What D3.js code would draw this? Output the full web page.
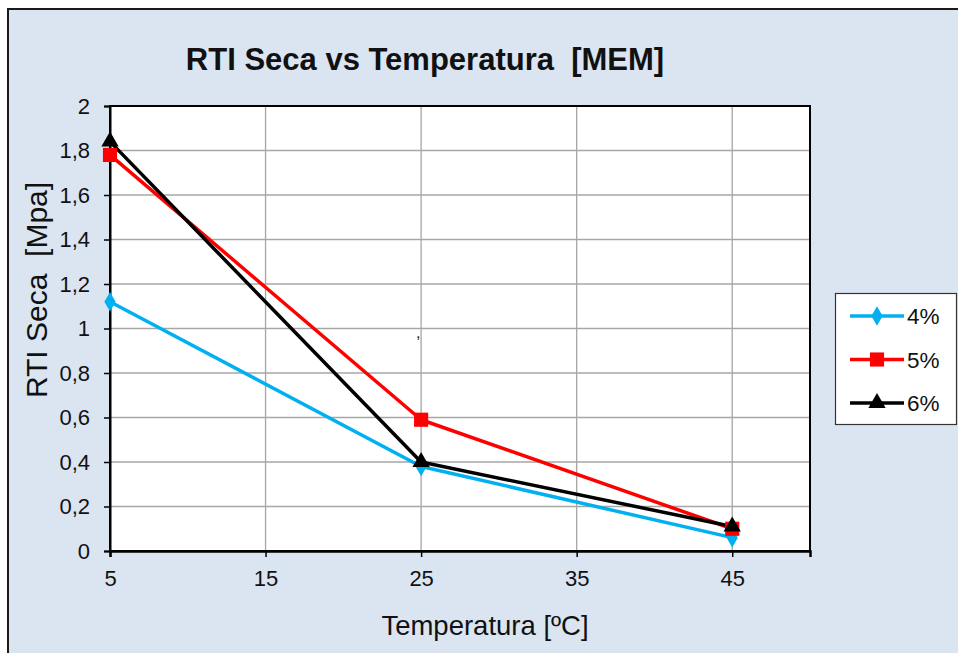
<!DOCTYPE html>
<html>
<head>
<meta charset="utf-8">
<script src="https://cdn.jsdelivr.net/npm/d3@7"></script>
<style>
  html, body { margin: 0; padding: 0; background: #ffffff; }
  svg { display: block; font-family: "Liberation Sans", Arial, sans-serif; }
  text { white-space: pre; }
</style>
</head>
<body>
<svg id="chart" width="958" height="653"></svg>
<script>
// Temperatures (ºC) measured
const temperatures = [5, 25, 45];
// RTI Seca (MPa) per moisture content
const series4 = [1.12, 0.38, 0.06];
const series5 = [1.78, 0.59, 0.10];
const series6 = [1.84, 0.40, 0.11];
const seriesNames = ["4%", "5%", "6%"];
const xTicks = [5, 15, 25, 35, 45];
const yTicks = [0, 0.2, 0.4, 0.6, 0.8, 1, 1.2, 1.4, 1.6, 1.8, 2];

const seriesList = [
  { name: seriesNames[0], values: series4, color: "#00b0f0", symbol: d3.symbolDiamond, size: 110 },
  { name: seriesNames[1], values: series5, color: "#ff0000", symbol: d3.symbolSquare, size: 200 },
  { name: seriesNames[2], values: series6, color: "#000000", symbol: d3.symbolTriangle, size: 130 }
];

const svg = d3.select("#chart");
const W = 958, H = 653;
const plot = { left: 110, top: 106, right: 810, bottom: 551 };

// chart background and frame
svg.append("rect").attr("x", 8).attr("y", 9).attr("width", W + 10).attr("height", H + 10)
  .attr("fill", "#dbe5f1").attr("stroke", "#1a1a1a").attr("stroke-width", 2);

const x = d3.scaleLinear().domain([5, 50]).range([plot.left, plot.right]);
const y = d3.scaleLinear().domain([0, 2]).range([plot.bottom, plot.top]);
const fmt = v => String(+v.toFixed(1)).replace(".", ",");

// plot area
svg.append("rect").attr("x", plot.left).attr("y", plot.top)
  .attr("width", plot.right - plot.left).attr("height", plot.bottom - plot.top)
  .attr("fill", "#ffffff");

// grid
svg.append("g").selectAll("line").data(yTicks.slice(1, -1)).join("line")
  .attr("x1", plot.left).attr("x2", plot.right)
  .attr("y1", d => y(d)).attr("y2", d => y(d))
  .attr("stroke", "#a6a6a6").attr("stroke-width", 1.3);
svg.append("g").selectAll("line").data(xTicks.slice(1)).join("line")
  .attr("y1", plot.top).attr("y2", plot.bottom)
  .attr("x1", d => x(d)).attr("x2", d => x(d))
  .attr("stroke", "#a6a6a6").attr("stroke-width", 1.3);

// plot frame
svg.append("rect").attr("x", plot.left).attr("y", plot.top)
  .attr("width", plot.right - plot.left).attr("height", plot.bottom - plot.top)
  .attr("fill", "none").attr("stroke", "#000").attr("stroke-width", 2);

// axes
const yAxis = d3.axisLeft(y).tickValues(yTicks).tickSize(6).tickPadding(14).tickFormat(fmt);
const gy = svg.append("g").attr("transform", `translate(${plot.left},0)`).call(yAxis);
gy.select(".domain").attr("stroke", "#000").attr("stroke-width", 2);
gy.selectAll(".tick line").attr("stroke", "#000").attr("stroke-width", 1.5);
gy.selectAll(".tick text").attr("font-size", 22).attr("fill", "#111")
  .attr("font-family", "Liberation Sans, Arial, sans-serif");

const xAxis = d3.axisBottom(x).tickValues(xTicks).tickSize(6).tickPadding(13).tickFormat(d3.format("d"));
const gx = svg.append("g").attr("transform", `translate(0,${plot.bottom})`).call(xAxis);
gx.select(".domain").attr("stroke", "#000").attr("stroke-width", 2.5);
gx.selectAll(".tick line").attr("stroke", "#000").attr("stroke-width", 1.5);
gx.selectAll(".tick text").attr("font-size", 22).attr("fill", "#111")
  .attr("font-family", "Liberation Sans, Arial, sans-serif");

// series lines and markers
const line = d3.line().x((d, i) => x(temperatures[i])).y(d => y(d));
seriesList.forEach(s => {
  svg.append("path").datum(s.values).attr("d", line)
    .attr("fill", "none").attr("stroke", s.color).attr("stroke-width", 3.5)
    .attr("stroke-linejoin", "round");
});
seriesList.forEach(s => {
  svg.append("g").selectAll("path").data(s.values).join("path")
    .attr("d", d3.symbol().type(s.symbol).size(s.size))
    .attr("transform", (d, i) => `translate(${x(temperatures[i])},${y(d)})`)
    .attr("fill", s.color);
});

// stray mark in plot
svg.append("text").attr("x", 416).attr("y", 338).attr("font-size", 16).attr("fill", "#222").text(",");

// title
svg.append("text").attr("x", 425).attr("y", 70).attr("text-anchor", "middle")
  .attr("font-size", 31).attr("font-weight", "bold").attr("fill", "#111")
  .text("RTI Seca vs Temperatura  [MEM]");

// axis titles
svg.append("text").attr("x", 485).attr("y", 635).attr("text-anchor", "middle")
  .attr("font-size", 27.5).attr("fill", "#111").text("Temperatura [ºC]");
svg.append("text").attr("transform", "translate(47,290) rotate(-90)").attr("text-anchor", "middle")
  .attr("font-size", 30).attr("fill", "#111").text("RTI Seca  [Mpa]");

// legend
const lg = svg.append("g");
lg.append("rect").attr("x", 835.5).attr("y", 293.5).attr("width", 121).attr("height", 131)
  .attr("fill", "#ffffff").attr("stroke", "#333").attr("stroke-width", 1.2);
seriesList.forEach((s, i) => {
  const cy = 316 + i * 43.5;
  lg.append("line").attr("x1", 850).attr("x2", 904).attr("y1", cy).attr("y2", cy)
    .attr("stroke", s.color).attr("stroke-width", 3.5);
  lg.append("path").attr("d", d3.symbol().type(s.symbol).size(s.size))
    .attr("transform", `translate(877,${cy})`).attr("fill", s.color);
  lg.append("text").attr("x", 907).attr("y", cy + 8).attr("font-size", 22.5).attr("fill", "#111").text(s.name);
});
</script>
</body>
</html>
